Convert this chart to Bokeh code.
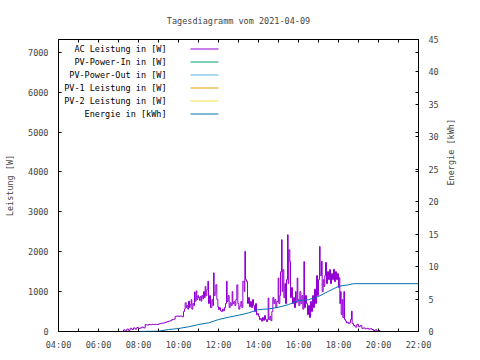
import math
from bokeh.plotting import figure
from bokeh.models import Range1d, LinearAxis, FixedTicker, Label, BoxAnnotation
from bokeh.embed import file_html
from bokeh.resources import INLINE

FONT = "DejaVu Sans Mono"
FS = "8.5px"

title_text = "Tagesdiagramm vom 2021-04-09"
y_label = "Leistung [W]"
y2_label = "Energie [kWh]"

series_names = ["AC Leistung in [W]", "PV-Power-In in [W]", "PV-Power-Out in [W]",
                "PV-1 Leistung in [W]", "PV-2 Leistung in [W]", "Energie in [kWh]"]
series_colors = ["#9400D3", "#009E73", "#56B4E9", "#E69F00", "#F0E442", "#0072B2"]

ac_times = ["07:10", "07:15", "07:20", "07:25", "07:30", "07:35", "07:40", "07:45", "07:50", "07:55",
            "08:00", "08:05", "08:10", "08:15", "08:20", "08:25", "08:30", "08:35", "08:40", "08:45",
            "08:50", "08:55", "09:00", "09:05", "09:10", "09:15", "09:20", "09:25", "09:30", "09:35",
            "09:40", "09:45", "09:50", "09:55", "10:00", "10:05", "10:10",
            "10:15", "10:18", "10:20", "10:23", "10:25", "10:28", "10:30", "10:33", "10:35", "10:38",
            "10:40", "10:43", "10:46", "10:48", "10:50", "10:53", "10:55", "10:58", "11:00", "11:03",
            "11:05", "11:08", "11:10", "11:13", "11:15", "11:18", "11:20", "11:22", "11:25", "11:28",
            "11:30", "11:33", "11:36", "11:40", "11:43", "11:45", "11:47", "11:50", "11:52", "11:55",
            "11:58", "12:00", "12:03", "12:06", "12:09", "12:12", "12:15", "12:18", "12:21", "12:24",
            "12:26", "12:29", "12:32", "12:35", "12:38", "12:41", "12:43", "12:46", "12:49", "12:52",
            "12:55", "12:58", "13:01", "13:04", "13:07", "13:10", "13:13", "13:17", "13:19", "13:21",
            "13:24", "13:27", "13:30", "13:33", "13:36", "13:39", "13:42", "13:45", "13:48", "13:51",
            "13:54", "13:57",
            "14:00", "14:03", "14:06", "14:09", "14:12", "14:15", "14:18", "14:21", "14:24", "14:27",
            "14:29", "14:31", "14:34", "14:37", "14:40", "14:43", "14:46", "14:49", "14:52", "14:55",
            "14:59", "15:01", "15:04", "15:06", "15:09", "15:11", "15:13", "15:16", "15:19", "15:21",
            "15:24", "15:27", "15:29", "15:31", "15:34", "15:36", "15:39", "15:42", "15:45", "15:48",
            "15:51", "15:53", "15:56", "15:58", "16:01", "16:04", "16:07", "16:10", "16:13", "16:16",
            "16:18", "16:21", "16:24", "16:27", "16:30", "16:33", "16:36", "16:39", "16:42", "16:45",
            "16:48", "16:51", "16:54", "16:57", "17:00", "17:03", "17:05", "17:09", "17:11", "17:14",
            "17:16", "17:19", "17:21", "17:24", "17:27", "17:30", "17:33", "17:36", "17:39", "17:42",
            "17:45", "17:48", "17:51", "17:54", "17:57", "18:00", "18:02", "18:04", "18:06", "18:08",
            "18:11", "18:13", "18:16", "18:18", "18:21", "18:24", "18:27", "18:30", "18:33", "18:36",
            "18:39", "18:41", "18:45", "18:50", "18:55", "19:00", "19:05", "19:10", "19:15", "19:20",
            "19:25", "19:30", "19:35", "19:40", "19:45", "19:50", "19:55", "20:00", "20:05"]
ac_watts = [0, 40, 20, 60, 30, 80, 50, 90, 60, 100,
            70, 90, 110, 90, 170, 160, 175, 170, 180, 175,
            180, 175, 190, 200, 210, 215, 230, 245, 260, 270,
            300, 310, 380, 390, 380, 390, 370,
            500, 560, 720, 600, 650, 560, 760, 600, 680, 800,
            560, 700, 650, 990, 760, 1020, 800, 900, 850, 780,
            880, 760, 900, 820, 1000, 850, 1130, 900, 1050, 1260,
            700, 900, 600, 800, 650, 1470, 900, 970, 1175, 800,
            620, 550, 600, 520, 500, 560, 520, 600, 700, 1260,
            750, 900, 600, 720, 650, 1000, 700, 750, 650, 800,
            1170, 700, 560, 640, 750, 600, 1260, 1000, 2010, 1300,
            1250, 700, 850, 620, 750, 600, 800, 650, 500, 700,
            420, 450,
            380, 300, 330, 260, 350, 280, 400, 300, 250, 300,
            840, 300, 380, 270, 500, 850, 700, 800, 600, 750,
            1340, 700, 900, 1500, 2300, 1000, 1550, 850, 1200, 700,
            1300, 2425, 1200, 2050, 1750, 850, 1100, 700, 850, 600,
            1000, 720, 1340, 800, 650, 1000, 700, 900, 560, 1750,
            600, 900, 700, 420, 650, 350, 750, 500, 900, 600,
            1060, 700, 1400, 900, 1300, 2130, 1400, 1760, 1000, 1300,
            1130, 1400, 1730, 1200, 1500, 1300, 1550, 1200, 1450, 1300,
            1560, 1250, 1500, 1300, 1450, 1100, 1350, 700, 1000, 425,
            800, 350, 1000, 300, 260, 215, 230, 200, 220, 300,
            510, 200, 150, 110, 180, 120, 150, 80, 90, 70,
            80, 60, 70, 50, 25, 40, 15, 25, 0]

energy_times = ["08:05", "09:00", "09:30", "10:00", "10:30", "11:00", "11:30", "12:00", "12:30",
                "13:00", "13:30", "14:00", "14:30", "15:00", "15:30", "16:00", "16:30", "17:00",
                "17:30", "18:00", "18:30", "18:45", "22:00"]
energy_kwh = [0.0, 0.05, 0.3, 0.46, 0.72, 1.07, 1.33, 1.84, 2.2,
              2.5, 2.87, 3.38, 3.48, 3.74, 4.15, 4.76, 4.9, 5.4,
              6.2, 6.95, 7.2, 7.37, 7.37]

x_ticks = [4, 6, 8, 10, 12, 14, 16, 18, 20, 22]
x_tick_labels = ["04:00", "06:00", "08:00", "10:00", "12:00", "14:00", "16:00", "18:00", "20:00", "22:00"]
x_minor = [5, 7, 9, 11, 13, 15, 17, 19, 21]
y_ticks = [0, 1000, 2000, 3000, 4000, 5000, 6000, 7000]
y2_ticks = [0, 5, 10, 15, 20, 25, 30, 35, 40, 45]


def to_hours(t):
    h, m = t.split(":")
    return int(h) + int(m) / 60.0


ac_h = [to_hours(t) for t in ac_times]
en_h = [to_hours(t) for t in energy_times]

p = figure(width=472, height=352, output_backend="svg", toolbar_location=None,
           x_range=Range1d(4, 22), y_range=Range1d(0, 7320),
           min_border_left=58, min_border_right=54, min_border_top=39, min_border_bottom=20,
           background_fill_color="white", border_fill_color="white")
p.extra_y_ranges = {"y2": Range1d(0, 45)}
p.xgrid.visible = False
p.ygrid.visible = False
p.outline_line_color = "black"
p.outline_line_width = 1

p.title.text = title_text
p.title.align = "center"
p.title.text_font = FONT
p.title.text_font_size = FS
p.title.text_font_style = "normal"
p.title.standoff = 27


def style_axis(ax, labels=True):
    ax.axis_line_color = None
    ax.major_tick_in = 3
    ax.major_tick_out = 0
    ax.minor_tick_in = 3
    ax.minor_tick_out = 0
    ax.major_tick_line_color = "black"
    ax.minor_tick_line_color = "black"
    ax.major_label_text_font = FONT
    ax.major_label_text_font_size = FS if labels else "0px"
    ax.axis_label_text_font = FONT
    ax.axis_label_text_font_size = FS
    ax.axis_label_text_font_style = "normal"
    if not labels:
        ax.major_label_standoff = 0


xa = p.xaxis[0]
xa.ticker = FixedTicker(ticks=x_ticks, minor_ticks=x_minor)
xa.major_label_overrides = {t: l for t, l in zip(x_ticks, x_tick_labels)}
style_axis(xa)
xa.major_label_standoff = 8

ya = p.yaxis[0]
ya.ticker = FixedTicker(ticks=y_ticks)
style_axis(ya)
ya.major_label_standoff = 10
ya.axis_label = y_label
ya.axis_label_standoff = 10

top = LinearAxis(ticker=FixedTicker(ticks=x_ticks, minor_ticks=x_minor))
style_axis(top, labels=False)
p.add_layout(top, "above")

mirror = LinearAxis(ticker=FixedTicker(ticks=y_ticks))
style_axis(mirror, labels=False)
p.add_layout(mirror, "right")

y2 = LinearAxis(y_range_name="y2", ticker=FixedTicker(ticks=y2_ticks))
style_axis(y2)
y2.major_label_standoff = 10
y2.axis_label = y2_label
y2.axis_label_standoff = 9
if "axis_label_orientation" in y2.properties():
    y2.axis_label_orientation = math.pi / 2
p.add_layout(y2, "right")

p.step(ac_h, ac_watts, color=series_colors[0], line_width=1, mode="after")
p.line(en_h, energy_kwh, color=series_colors[5], line_width=1, y_range_name="y2")

# legend (gnuplot style: text right-aligned, sample line to the right)
for i, (name, col) in enumerate(zip(series_names, series_colors)):
    yc = 283 - 13 * i
    p.add_layout(Label(x=108, y=yc, x_units="screen", y_units="screen", text=name,
                       text_align="right", text_baseline="middle",
                       text_font=FONT, text_font_size=FS, text_color="black"))
    p.add_layout(BoxAnnotation(left=132, right=160, bottom=yc - 1, top=yc,
                               left_units="screen", right_units="screen",
                               bottom_units="screen", top_units="screen",
                               fill_color=col, fill_alpha=1.0, line_color=None))

open("out.html", "w").write(file_html(p, INLINE))
